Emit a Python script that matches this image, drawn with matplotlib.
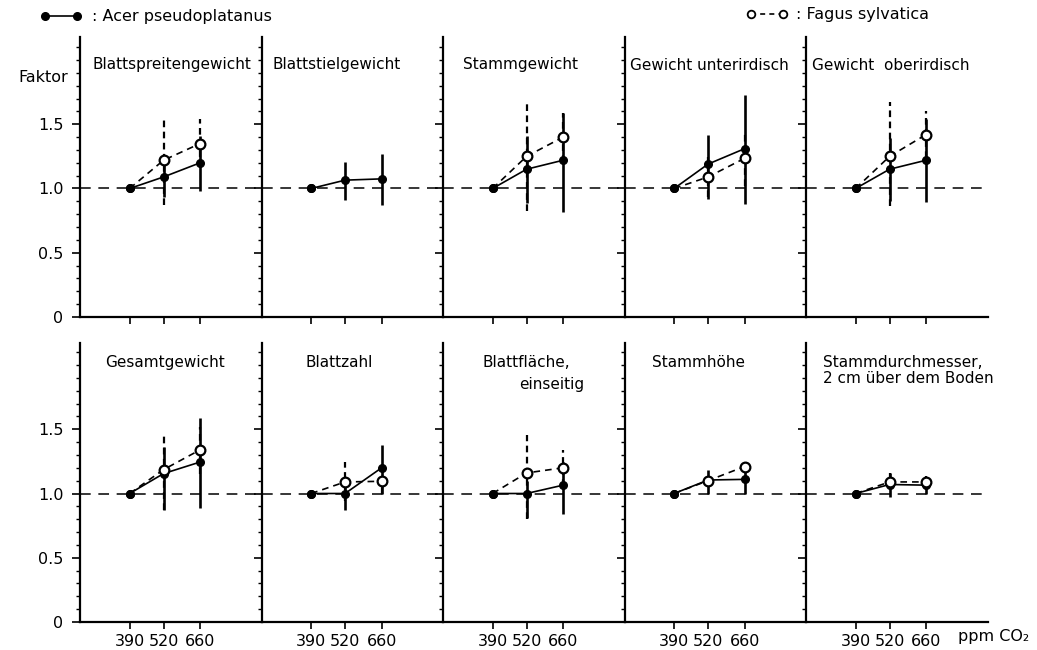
import matplotlib
matplotlib.use('Agg')
import matplotlib.pyplot as plt
from matplotlib.lines import Line2D
import numpy as np
from matplotlib.ticker import MultipleLocator, FixedLocator, FixedFormatter

nan = np.nan

# CO2 levels (ppm)
co2 = [390, 520, 660]

titles = ['Blattspreitengewicht', 'Blattstielgewicht', 'Stammgewicht',
          'Gewicht unterirdisch', 'Gewicht  oberirdisch',
          'Gesamtgewicht', 'Blattzahl', 'Blattfläche,\neinseitig',
          'Stammhöhe', 'Stammdurchmesser,\n2 cm über dem Boden']

ytick_vals = [0, 0.5, 1.0, 1.5]
ytick_labels = ['0', '0.5', '1.0', '1.5']

# Acer pseudoplatanus: factor and range of the bars
acer_mean = [[1.0, 1.09, 1.20], [1.0, 1.065, 1.075], [1.0, 1.15, 1.22],
             [1.0, 1.19, 1.31], [1.0, 1.15, 1.22], [1.0, 1.155, 1.245],
             [1.0, 1.0, 1.20], [1.0, 1.0, 1.065], [1.0, 1.105, 1.11],
             [1.0, 1.07, 1.065]]
acer_lo = [[nan, 0.93, 0.98], [nan, 0.91, 0.87], [nan, 0.89, 0.82],
           [nan, 0.92, 0.88], [nan, 0.90, 0.895], [nan, 0.87, 0.89],
           [nan, 0.875, 1.0], [nan, 0.81, 0.84], [nan, 1.0, 1.0],
           [nan, 0.97, 1.0]]
acer_hi = [[nan, 1.19, 1.41], [nan, 1.21, 1.27], [nan, 1.41, 1.59],
           [nan, 1.42, 1.73], [nan, 1.39, 1.54], [nan, 1.36, 1.59],
           [nan, 1.12, 1.38], [nan, 1.10, 1.245], [nan, 1.18, 1.20],
           [nan, 1.16, 1.10]]

# Fagus sylvatica
fagus_mean = [[1.0, 1.22, 1.35], [nan, nan, nan], [1.0, 1.25, 1.40],
              [1.0, 1.09, 1.235], [1.0, 1.25, 1.42], [1.0, 1.186, 1.34],
              [1.0, 1.09, 1.095], [1.0, 1.16, 1.20], [1.0, 1.10, 1.21],
              [1.0, 1.09, 1.09]]
fagus_lo = [[nan, 0.875, 1.16], [nan, nan, nan], [nan, 0.825, 1.21],
            [nan, 0.93, 1.02], [nan, 0.865, 1.24], [nan, 0.87, 1.155],
            [nan, 0.94, 1.0], [nan, 0.80, 1.06], [nan, nan, nan],
            [nan, 1.03, 1.03]]
fagus_hi = [[nan, 1.53, 1.54], [nan, nan, nan], [nan, 1.675, 1.59],
            [nan, 1.26, 1.45], [nan, 1.67, 1.60], [nan, 1.47, 1.52],
            [nan, 1.245, 1.20], [nan, 1.455, 1.34], [nan, nan, nan],
            [nan, 1.16, 1.14]]

plt.rcParams['font.family'] = ['DejaVu Sans']
W, H = 1037, 650
fig = plt.figure(figsize=(W / 100, H / 100), dpi=100)

# title line positions in axes fraction: one (x, y) per line
title_pos = [[(0.07, 0.90)], [(0.06, 0.90)], [(0.11, 0.90)], [(0.03, 0.90)],
             [(0.035, 0.90)],
             [(0.14, 0.93)], [(0.24, 0.93)], [(0.215, 0.93), (0.42, 0.85)],
             [(0.15, 0.93)], [(0.095, 0.93), (0.095, 0.873)]]

for i in range(10):
    row, col = divmod(i, 5)
    left = 80 + col * 181.5
    if row == 0:
        bottom, top = 317, 37
    else:
        bottom, top = 622, 343
    ax = fig.add_axes([left / W, 1 - bottom / H, 181.5 / W, (bottom - top) / H])
    ax.set_xlim(200, 895)
    ax.set_ylim(0, (bottom - top) / 128.5)
    ax.patch.set_alpha(0)
    for s in ['top', 'right']:
        ax.spines[s].set_visible(False)
    ax.spines['left'].set_linewidth(1.6)
    ax.spines['bottom'].set_linewidth(1.6)

    ax.yaxis.set_major_locator(FixedLocator(ytick_vals))
    ax.yaxis.set_minor_locator(MultipleLocator(0.1))
    ax.tick_params(axis='y', which='major', direction='out', length=6, width=1.2)
    ax.tick_params(axis='y', which='minor', direction='out', length=3, width=1.0)
    if col == 0:
        ax.yaxis.set_major_formatter(FixedFormatter(ytick_labels))
        ax.tick_params(axis='y', labelsize=11.5, pad=6)
    else:
        ax.set_yticklabels([])
    ax.set_xticks(co2)
    ax.tick_params(axis='x', direction='out', length=5, width=1.2, labelsize=11.5, pad=4)
    if row == 0:
        ax.set_xticklabels([])
    else:
        ax.set_xticklabels([str(c) for c in co2])

    ax.axhline(1.0, color='black', lw=1.1, dashes=(7, 5), zorder=1)

    # error bars
    ax.vlines(co2, acer_lo[i], acer_hi[i], colors='black', lw=1.9, zorder=2)
    ax.vlines(co2, fagus_lo[i], fagus_hi[i], colors='black', lw=1.6,
              linestyles=(0, (3, 2)), zorder=2)

    ax.plot(co2, fagus_mean[i], color='black', lw=1.2, dashes=(4, 3),
            marker='o', ms=7, mfc='white', mec='black', mew=1.6,
            markevery=[1, 2], zorder=4)
    ax.plot(co2, acer_mean[i], '-', color='black', lw=1.2, marker='o',
            ms=5.5, mfc='black', mec='black', zorder=3)
    # reference point at 390 ppm is shown filled
    ax.plot(co2[0], acer_mean[i][0], 'o', color='black', ms=5.5, zorder=5)

    for (tx, ty), line in zip(title_pos[i], titles[i].split('\n')):
        ax.text(tx, ty, line, transform=ax.transAxes, fontsize=11,
                ha='left', va='center')

fig.text(18 / W, 1 - 77 / H, 'Faktor', fontsize=11.5, ha='left', va='center')
fig.text(958 / W, 1 - 636 / H, 'ppm CO₂', fontsize=11.5, ha='left', va='center')

acer_handle = Line2D([], [], color='black', lw=1.2, marker='o', ms=5.5)
fagus_handle = Line2D([], [], color='black', lw=1.2, dashes=(3, 2.5), marker='o',
                      ms=5.5, mfc='white', mew=1.3)
fig.legend([acer_handle], [': Acer pseudoplatanus'], loc='center left',
           bbox_to_anchor=(34 / W, 1 - 17 / H), frameon=False, fontsize=11.5,
           numpoints=2, handlelength=2.6, handletextpad=0.6, borderaxespad=0)
fig.legend([fagus_handle], [': Fagus sylvatica'], loc='center left',
           bbox_to_anchor=(740 / W, 1 - 15 / H), frameon=False, fontsize=11.5,
           numpoints=2, handlelength=2.6, handletextpad=0.5, borderaxespad=0)

plt.savefig('out.png', dpi=100)
